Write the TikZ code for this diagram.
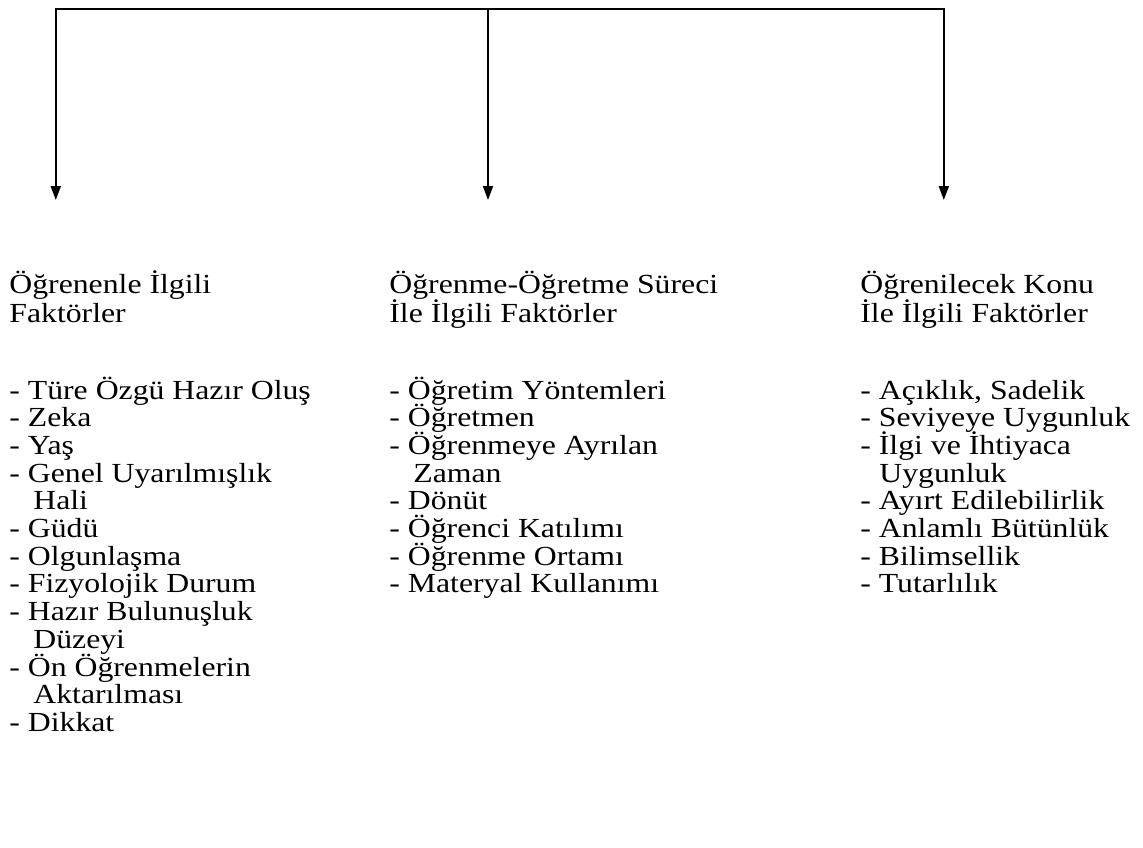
\documentclass[tikz,border=0pt]{standalone}
\usepackage{fontspec}
\setmainfont{Liberation Serif}
\newfontfamily\colfamily{Liberation Serif}[FakeStretch=1.15]
\newcommand\colfont{\colfamily\fontsize{13.8}{13.85}\selectfont
  \lineskiplimit=-20pt\relax\lineskip=0pt\relax}
\usetikzlibrary{arrows.meta}
\begin{document}
\begin{tikzpicture}[x=1pt,y=1pt,
  conn/.style={line width=0.9pt},
  bar/.style={line width=1.1pt},
  arr/.style={conn,-{Triangle[length=7pt,width=5pt]}},
  col/.style={anchor=base west,inner sep=0pt,align=left,font=\colfont}]
\useasboundingbox (0,0) rectangle (571.5,-423.5);
\coordinate (tl) at (27.9,-4.5);
\coordinate (tm) at (244,-4.5);
\coordinate (tr) at (471.9,-4.5);
\coordinate (al) at (27.9,-100);
\coordinate (am) at (244,-100);
\coordinate (ar) at (471.9,-100);
\draw[bar] ([xshift=-0.45pt]tl) -- ([xshift=0.45pt]tr);
\draw[arr] (tl) -- (al);
\draw[arr] (tm) -- (am);
\draw[arr] (tr) -- (ar);
\node[col] (c1) at (4.5,-365.7) {Öğrenenle İlgili\\[0.65pt]Faktörler\\[24.65pt]
- Türe Özgü Hazır Oluş\\
- Zeka\\
- Yaş\\
- Genel Uyarılmışlık\\
\hspace*{12pt}Hali\\
- Güdü\\
- Olgunlaşma\\
- Fizyolojik Durum\\
- Hazır Bulunuşluk\\
\hspace*{12pt}Düzeyi\\
- Ön Öğrenmelerin\\
\hspace*{12pt}Aktarılması\\
- Dikkat};
\node[col] (c2) at (194.5,-296.45) {Öğrenme-Öğretme Süreci\\[0.65pt]İle İlgili Faktörler\\[24.65pt]
- Öğretim Yöntemleri\\
- Öğretmen\\
- Öğrenmeye Ayrılan\\
\hspace*{12pt}Zaman\\
- Dönüt\\
- Öğrenci Katılımı\\
- Öğrenme Ortamı\\
- Materyal Kullanımı};
\node[col] (c3) at (430,-296.45) {Öğrenilecek Konu\\[0.65pt]İle İlgili Faktörler\\[24.65pt]
- Açıklık, Sadelik\\
- Seviyeye Uygunluk\\
- İlgi ve İhtiyaca\\
\hspace*{9.5pt}Uygunluk\\
- Ayırt Edilebilirlik\\
- Anlamlı Bütünlük\\
- Bilimsellik\\
- Tutarlılık};
\end{tikzpicture}
\end{document}
